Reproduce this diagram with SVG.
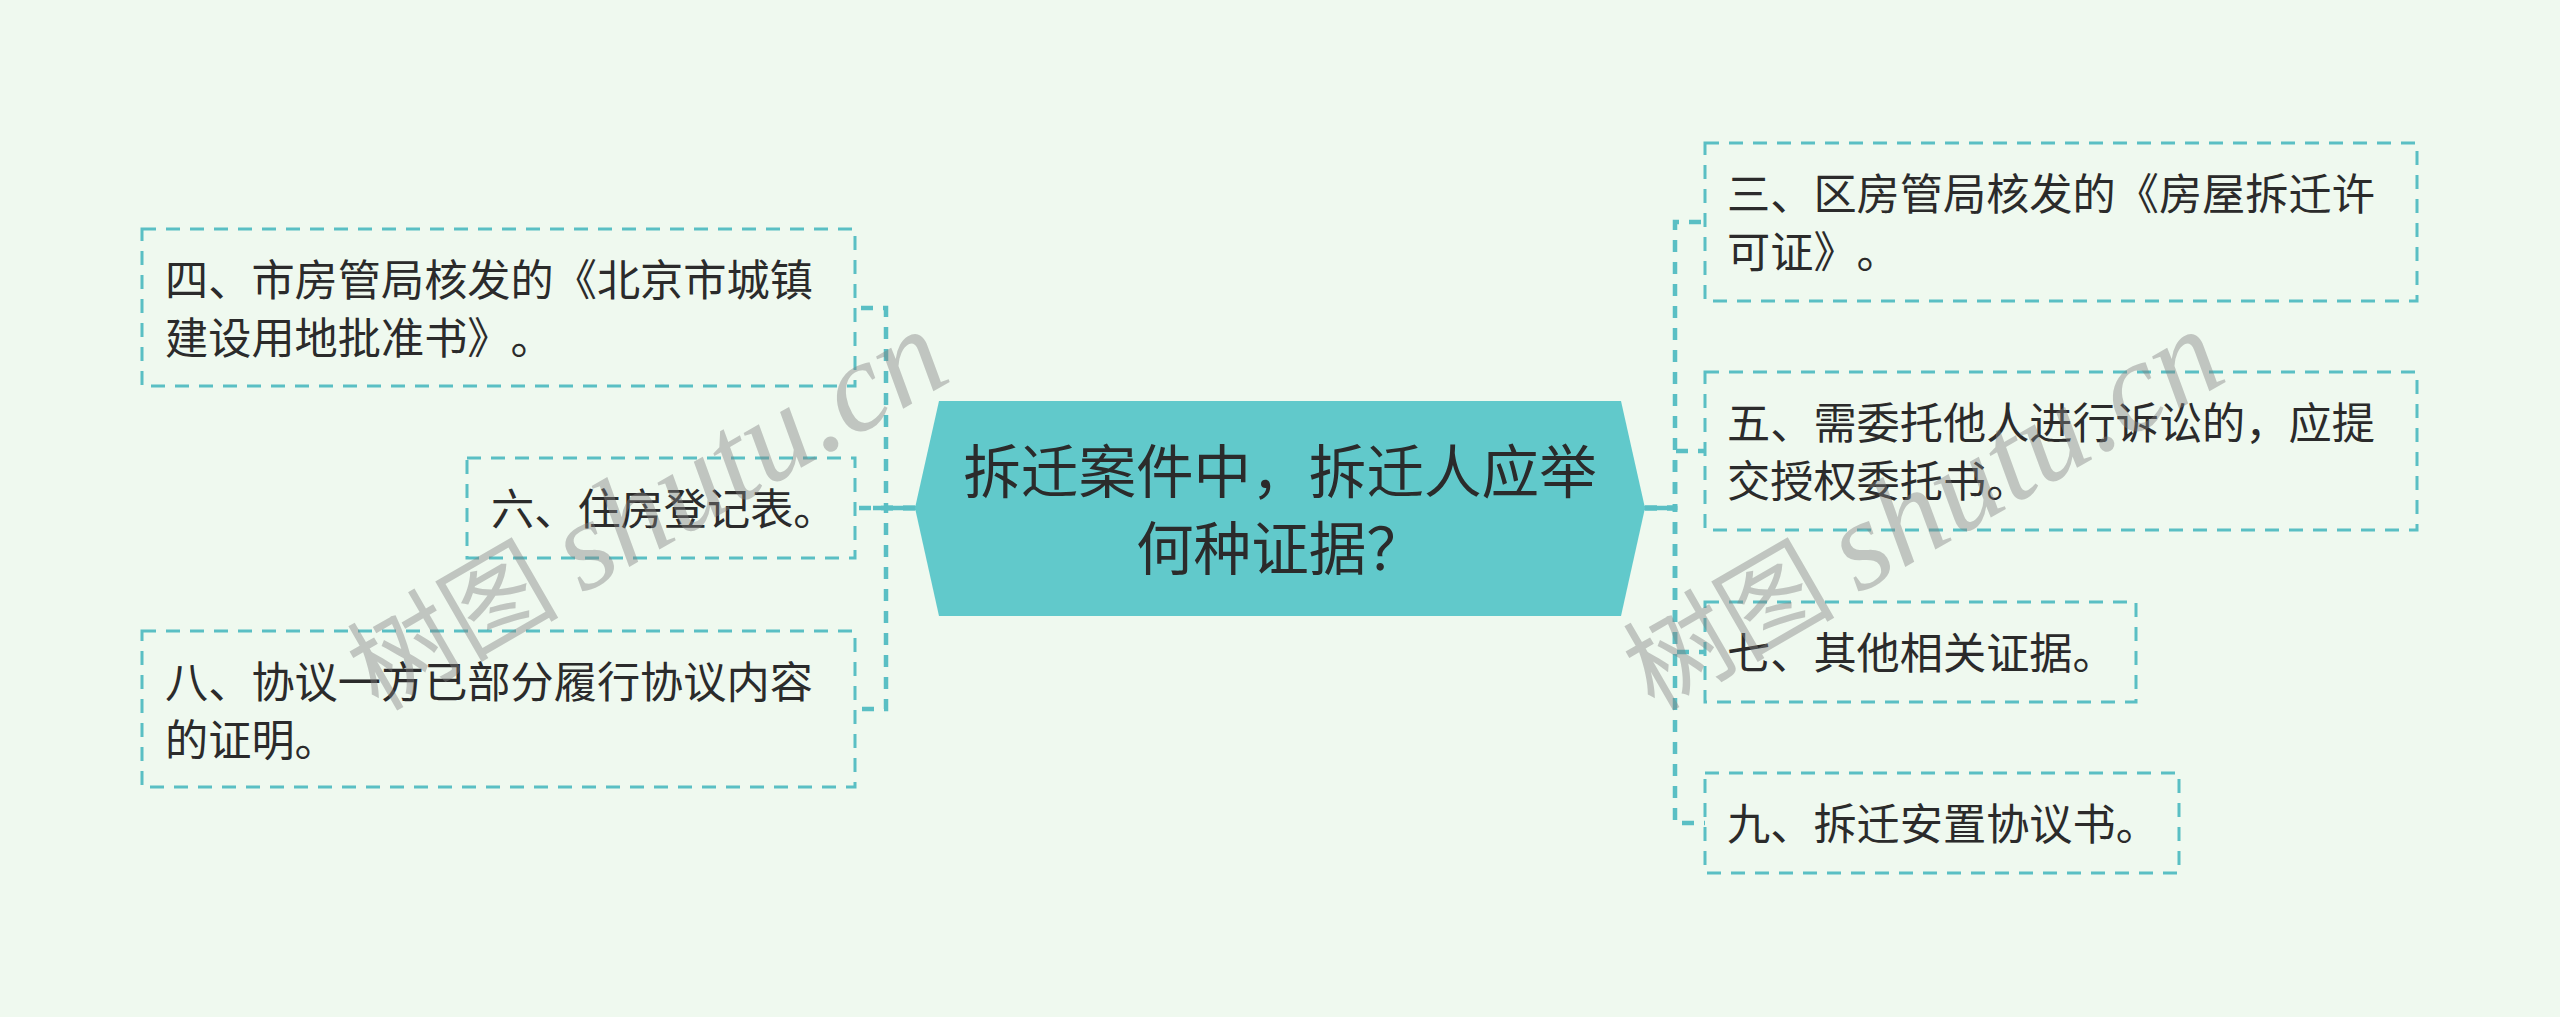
<svg xmlns="http://www.w3.org/2000/svg" width="2560" height="1017" viewBox="0 0 2560 1017">
<defs>
<style>
.bg{fill:#eff9ef}
.box{fill:none;stroke:#5abfc4;stroke-width:3;stroke-dasharray:14 10}
.link{fill:none;stroke:#5abfc4;stroke-width:4.5;stroke-dasharray:12 10}
.solid{fill:none;stroke:#5abfc4;stroke-width:4.5}
text{text-spacing-trim:space-all}
.t{font-family:"Noto Sans CJK SC","Noto Sans",sans-serif;font-size:43.2px;fill:#2b2b2b}
.ct{font-family:"Noto Sans CJK SC","Noto Sans",sans-serif;font-size:57.6px;fill:#2b2b2b;text-anchor:middle}
.wm{font-family:"Noto Sans CJK SC",serif;font-size:106px;fill:#808080;opacity:0.42}
.wml{font-family:"Liberation Serif",serif;font-style:italic;font-size:128px}
</style>
</defs>
<rect class="bg" x="0" y="0" width="2560" height="1017"/>
<g id="connectors">
<path class="link" d="M915 508 H886 V308 H855"/>
<path class="link" d="M915 508 H886 V508 H855"/>
<path class="link" d="M915 508 H886 V709 H855"/>
<path class="link" d="M1645 508 H1675 V222 H1705"/>
<path class="link" d="M1645 508 H1675 V451 H1705"/>
<path class="link" d="M1645 508 H1675 V652 H1705"/>
<path class="link" d="M1645 508 H1675 V823 H1705"/>
<path class="solid" d="M873 508 H917"/>
<path class="solid" d="M1643 508 H1677"/>
</g>
<g id="center">
<polygon points="939,401 1621,401 1645,508 1621,616 939,616 915,508" fill="#61c9cb"/>
<text class="ct" x="1280" y="493">拆迁案件中，拆迁人应举</text>
<text class="ct" x="1280" y="569.5">何种证据？</text>
</g>
<g id="n4">
<rect class="box" x="142" y="229" width="713" height="157"/>
<text class="t" x="165" y="296">四、市房管局核发的《北京市城镇</text>
<text class="t" x="165" y="353.5">建设用地批准书》。</text>
</g>
<g id="n6">
<rect class="box" x="467" y="458" width="388" height="100"/>
<text class="t" x="491" y="525">六、住房登记表。</text>
</g>
<g id="n8">
<rect class="box" x="142" y="631" width="713" height="156"/>
<text class="t" x="165" y="698">八、协议一方已部分履行协议内容</text>
<text class="t" x="165" y="755.5">的证明。</text>
</g>
<g id="n3">
<rect class="box" x="1705" y="143" width="712" height="158"/>
<text class="t" x="1727" y="210">三、区房管局核发的《房屋拆迁许</text>
<text class="t" x="1727" y="267.5">可证》。</text>
</g>
<g id="n5">
<rect class="box" x="1705" y="372" width="712" height="158"/>
<text class="t" x="1727" y="439">五、需委托他人进行诉讼的，应提</text>
<text class="t" x="1727" y="496.5">交授权委托书。</text>
</g>
<g id="n7">
<rect class="box" x="1705" y="602" width="431" height="100"/>
<text class="t" x="1727" y="669">七、其他相关证据。</text>
</g>
<g id="n9">
<rect class="box" x="1705" y="773" width="474" height="100"/>
<text class="t" x="1727" y="840">九、拆迁安置协议书。</text>
</g>
<g id="watermarks">
<text class="wm" transform="translate(378,712) rotate(-30)">树图 <tspan class="wml">shutu.cn</tspan></text>
<text class="wm" transform="translate(1654,712) rotate(-30)">树图 <tspan class="wml">shutu.cn</tspan></text>
</g>
</svg>
